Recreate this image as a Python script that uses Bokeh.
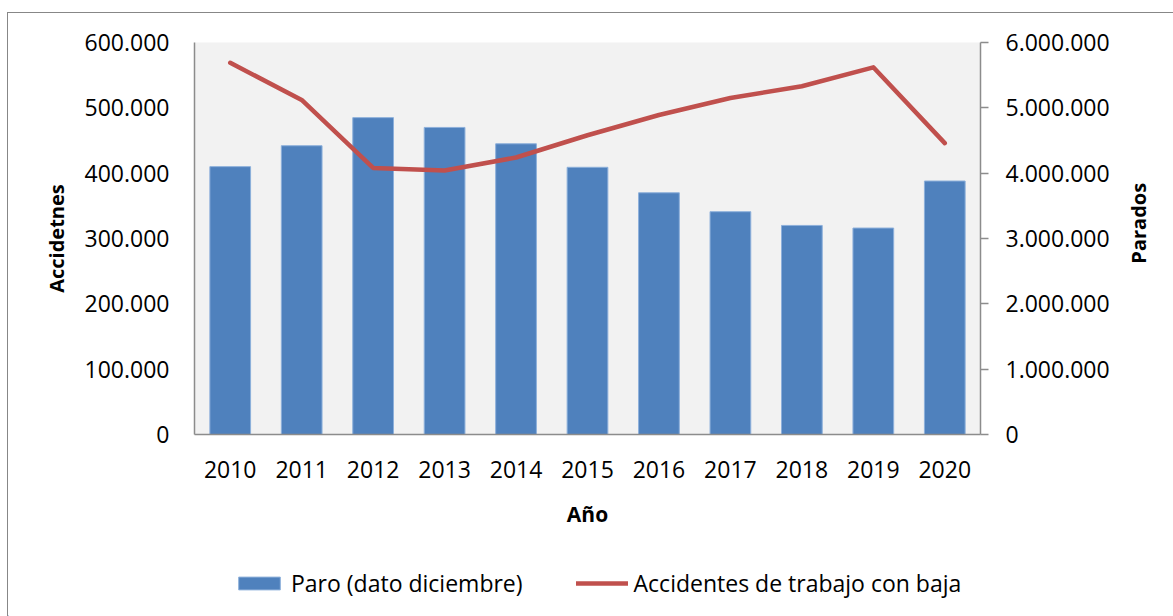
from math import pi

from bokeh.plotting import figure
from bokeh.layouts import row, column
from bokeh.models import (Range1d, FactorRange, LinearAxis, FixedTicker,
                          CustomJSTickFormatter, Legend, LegendItem, Label,
                          ColumnDataSource)
from bokeh.embed import file_html
from bokeh.resources import INLINE

# ---------------- data ----------------
years = ["2010", "2011", "2012", "2013", "2014", "2015",
         "2016", "2017", "2018", "2019", "2020"]
paro = [4100000, 4420000, 4850000, 4700000, 4450000, 4090000,
        3700000, 3410000, 3200000, 3160000, 3880000]
accidentes = [569000, 512000, 408000, 404000, 424000, 458000,
              489000, 515000, 533000, 562000, 446000]
left_ticks = [0, 100000, 200000, 300000, 400000, 500000, 600000]
right_ticks = [0, 1000000, 2000000, 3000000, 4000000, 5000000, 6000000]

series_bar = "Paro (dato diciembre)"
series_line = "Accidentes de trabajo con baja"
title_left = "Accidetnes"
title_right = "Parados"
title_x = "Año"

FONT = "Open Sans"
GRAY = "#8C8C8C"
BAR_FILL = "#4F81BD"
BAR_EDGE = "#8DB0DB"
LINE_COLOR = "#C0504D"

# overall geometry (pixels); page origin of the chart block is (8, 13)
W_ALL, H_ALL = 1165, 603
W_MAIN, H_MAIN = 1115, 540
W_SIDE, H_LEG = W_ALL - W_MAIN, H_ALL - H_MAIN
FRAME_L, FRAME_R, FRAME_T, FRAME_B = 186, 972, 29, 421

src = ColumnDataSource(dict(year=years, paro=paro, acc=accidentes))

fmt = CustomJSTickFormatter(code=r"""
return Math.round(tick).toString().replace(/\B(?=(\d{3})+(?!\d))/g, '.');
""")

p = figure(width=W_MAIN, height=H_MAIN,
           x_range=FactorRange(factors=years),
           y_range=Range1d(0, 600000),
           output_backend="svg", toolbar_location=None,
           min_border_left=FRAME_L, min_border_right=W_MAIN - FRAME_R,
           min_border_top=FRAME_T, min_border_bottom=H_MAIN - FRAME_B,
           background_fill_color="#F2F2F2", border_fill_color="white",
           outline_line_color=None)

p.extra_y_ranges = {"parados": Range1d(0, 6000000)}

bars = p.vbar(x="year", top="paro", width=0.57, source=src,
              y_range_name="parados", fill_color=BAR_FILL,
              line_color=BAR_EDGE, line_width=1)
line = p.line(x="year", y="acc", source=src, line_color=LINE_COLOR,
              line_width=4.5, line_cap="round", line_join="round")

p.xgrid.grid_line_color = None
p.ygrid.grid_line_color = None

# left axis
ya = p.yaxis[0]
ya.ticker = FixedTicker(ticks=left_ticks)
ya.formatter = fmt
ya.axis_line_color = GRAY
ya.axis_line_width = 1.5
ya.major_tick_line_color = None
ya.minor_tick_line_color = None
ya.major_tick_out = 0
ya.major_tick_in = 0
ya.major_label_standoff = 25
ya.major_label_text_font = FONT
ya.major_label_text_font_size = "23px"
ya.major_label_text_color = "black"
ya.axis_label = title_left
ya.axis_label_text_font = FONT
ya.axis_label_text_font_size = "20px"
ya.axis_label_text_font_style = "bold"
ya.axis_label_text_color = "black"
ya.axis_label_standoff = 12

# right axis
ra = LinearAxis(y_range_name="parados", ticker=FixedTicker(ticks=right_ticks),
                formatter=fmt)
ra.axis_line_color = GRAY
ra.axis_line_width = 1.5
ra.major_tick_line_color = GRAY
ra.major_tick_line_width = 1.5
ra.major_tick_out = 8
ra.major_tick_in = 0
ra.minor_tick_line_color = None
ra.major_label_standoff = 17
ra.major_label_text_font = FONT
ra.major_label_text_font_size = "23px"
ra.major_label_text_color = "black"
p.add_layout(ra, "right")

# x axis
xa = p.xaxis[0]
xa.axis_line_color = GRAY
xa.axis_line_width = 1.5
xa.major_tick_line_color = None
xa.minor_tick_line_color = None
xa.major_tick_out = 0
xa.major_tick_in = 0
xa.major_label_standoff = 26
xa.major_label_text_font = FONT
xa.major_label_text_font_size = "23px"
xa.major_label_text_color = "black"
xa.axis_label = title_x
xa.axis_label_text_font = FONT
xa.axis_label_text_font_size = "21px"
xa.axis_label_text_font_style = "bold"
xa.axis_label_text_color = "black"
xa.axis_label_standoff = 19

# ---- side strip holding the right axis title (reads bottom-to-top) ----
side = figure(width=W_SIDE, height=H_MAIN, output_backend="svg",
              toolbar_location=None, x_range=Range1d(0, W_SIDE),
              y_range=Range1d(0, H_MAIN), x_axis_type=None, y_axis_type=None,
              min_border=0, outline_line_color=None,
              background_fill_color="white", border_fill_color="white")
side.xgrid.grid_line_color = None
side.ygrid.grid_line_color = None
side.add_layout(Label(x=15, y=291, text=title_right, angle=pi / 2,
                      text_align="center", text_baseline="middle",
                      text_font=FONT, text_font_size="20px",
                      text_font_style="bold", text_color="black"))

# ---- legend strip ----
leg = figure(width=W_ALL, height=H_LEG, output_backend="svg",
             toolbar_location=None, x_range=Range1d(0, W_ALL),
             y_range=Range1d(0, H_LEG), x_axis_type=None, y_axis_type=None,
             min_border=0, outline_line_color=None,
             background_fill_color="white", border_fill_color="white")
leg.xgrid.grid_line_color = None
leg.ygrid.grid_line_color = None
# proxies (kept off-screen) that only provide the legend swatches
lb = leg.vbar(x=[-1000], top=[1], width=1, fill_color=BAR_FILL,
              line_color=BAR_EDGE, line_width=1)
ll = leg.line(x=[-1000, -999], y=[1, 1], line_color=LINE_COLOR,
              line_width=4.5, line_cap="round")
legend = Legend(items=[LegendItem(label=series_bar, renderers=[lb]),
                       LegendItem(label=series_line, renderers=[ll])],
                location=(225, 17), orientation="horizontal",
                border_line_color=None, background_fill_alpha=0,
                padding=0, margin=0, spacing=53,
                glyph_width=52, glyph_height=16, label_standoff=6,
                label_height=16,
                label_text_font=FONT, label_text_font_size="23px",
                label_text_color="black")
leg.add_layout(legend)

root = column(row(p, side, spacing=0), leg, spacing=0,
              styles={"margin-top": "13px", "margin-left": "8px",
                      "outline": "1.5px solid #878787"})

open("out.html", "w").write(file_html(root, INLINE))
